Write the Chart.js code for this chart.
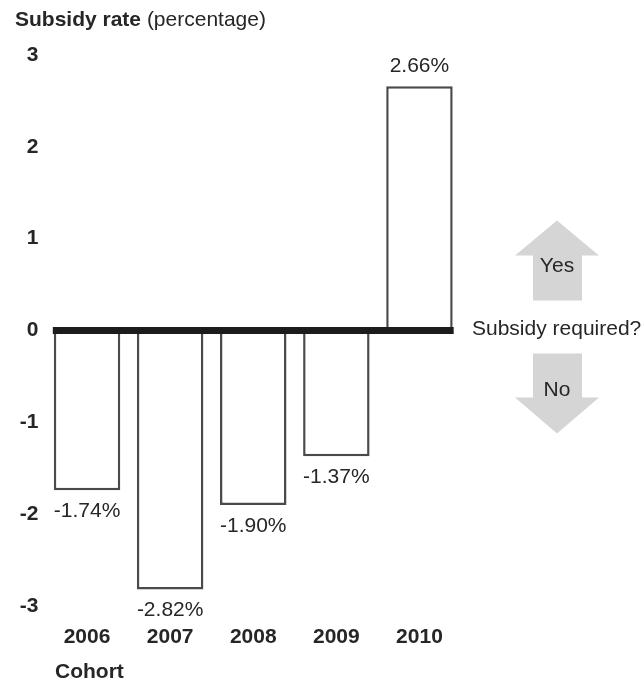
<!DOCTYPE html>
<html>
<head>
<meta charset="utf-8">
<script src="https://cdn.jsdelivr.net/npm/chart.js@4.4.1/dist/chart.umd.min.js"></script>
<style>
  html, body { margin: 0; padding: 0; background: #fff; }
  #wrap { width: 644px; height: 682px; }
</style>
</head>
<body>
<div id="wrap"><canvas id="subsidy-chart" width="644" height="682"></canvas></div>
<script>
// data
const cohorts = ['2006', '2007', '2008', '2009', '2010'];
const subsidyRates = [-1.74, -2.82, -1.90, -1.37, 2.66];
const yMin = -3;
const yMax = 3;

const FONT = "'Liberation Sans', Arial, Helvetica, sans-serif";
const TEXT = '#262626';

// title, zero line, value labels, Yes/No arrows
const extras = {
    id: 'extras',
    afterDatasetsDraw(chart) {
        const c = chart.ctx;
        const y = chart.scales.y;
        const area = chart.chartArea;
        const bars = chart.getDatasetMeta(0).data;
        const zy = y.getPixelForValue(0);

        c.save();

        // thick zero line spanning the bars
        const first = bars[0], last = bars[bars.length - 1];
        c.fillStyle = '#1c1c1c';
        c.fillRect(first.x - first.width / 2 - 1, zy - 3.5, (last.x + last.width / 2 + 1) - (first.x - first.width / 2 - 1), 7);

        // value labels
        c.fillStyle = TEXT;
        c.font = '21px ' + FONT;
        c.textAlign = 'center';
        c.textBaseline = 'middle';
        bars.forEach((bar, i) => {
            const v = subsidyRates[i];
            const ty = v >= 0 ? bar.y - 20 : bar.y + 21;
            c.fillText(v.toFixed(2) + '%', bar.x, ty);
        });

        // title
        c.textAlign = 'left';
        c.textBaseline = 'alphabetic';
        c.font = 'bold 21px ' + FONT;
        c.fillText('Subsidy rate', 15, 26);
        const w = c.measureText('Subsidy rate ').width;
        c.font = '21px ' + FONT;
        c.fillText('(percentage)', 15 + w, 26);

        // x axis caption
        c.font = 'bold 21px ' + FONT;
        c.textBaseline = 'middle';
        c.fillText('Cohort', 55, 672);

        // arrows
        const ax = area.right + 96;
        c.fillStyle = '#d5d5d5';
        c.beginPath();
        c.moveTo(ax, zy - 110);
        c.lineTo(ax + 42, zy - 75);
        c.lineTo(ax + 25, zy - 75);
        c.lineTo(ax + 25, zy - 30);
        c.lineTo(ax - 24, zy - 30);
        c.lineTo(ax - 24, zy - 75);
        c.lineTo(ax - 42, zy - 75);
        c.closePath();
        c.fill();

        c.beginPath();
        c.moveTo(ax, zy + 103);
        c.lineTo(ax + 42, zy + 67);
        c.lineTo(ax + 25, zy + 67);
        c.lineTo(ax + 25, zy + 23);
        c.lineTo(ax - 24, zy + 23);
        c.lineTo(ax - 24, zy + 67);
        c.lineTo(ax - 42, zy + 67);
        c.closePath();
        c.fill();

        c.fillStyle = TEXT;
        c.font = '21px ' + FONT;
        c.textAlign = 'center';
        c.fillText('Yes', ax, zy - 64);
        c.fillText('No', ax, zy + 60);
        c.textAlign = 'left';
        c.fillText('Subsidy required?', 472, zy - 1);

        c.restore();
    }
};

new Chart(document.getElementById('subsidy-chart'), {
    type: 'bar',
    data: {
        labels: cohorts,
        datasets: [{
            data: subsidyRates,
            backgroundColor: '#ffffff',
            borderColor: '#4a4a4a',
            borderWidth: 2.5,
            borderSkipped: false,
            barPercentage: 0.8,
            categoryPercentage: 1
        }]
    },
    options: {
        responsive: false,
        animation: false,
        layout: {
            padding: { top: 55, right: 183, bottom: 0, left: 0 }
        },
        plugins: {
            legend: { display: false },
            tooltip: { enabled: false }
        },
        scales: {
            x: {
                offset: true,
                grid: { display: false, drawTicks: false },
                border: { display: false },
                ticks: {
                    color: TEXT,
                    padding: 19,
                    font: { family: FONT, size: 21, weight: 'bold' }
                },
                afterFit(scale) { scale.height = 76; }
            },
            y: {
                min: yMin,
                max: yMax,
                grid: { display: false, drawTicks: false },
                border: { display: false },
                ticks: {
                    stepSize: 1,
                    color: TEXT,
                    padding: 7,
                    font: { family: FONT, size: 21, weight: 'bold' }
                },
                afterFit(scale) { scale.width = 45.5; }
            }
        }
    },
    plugins: [extras]
});
</script>
</body>
</html>
